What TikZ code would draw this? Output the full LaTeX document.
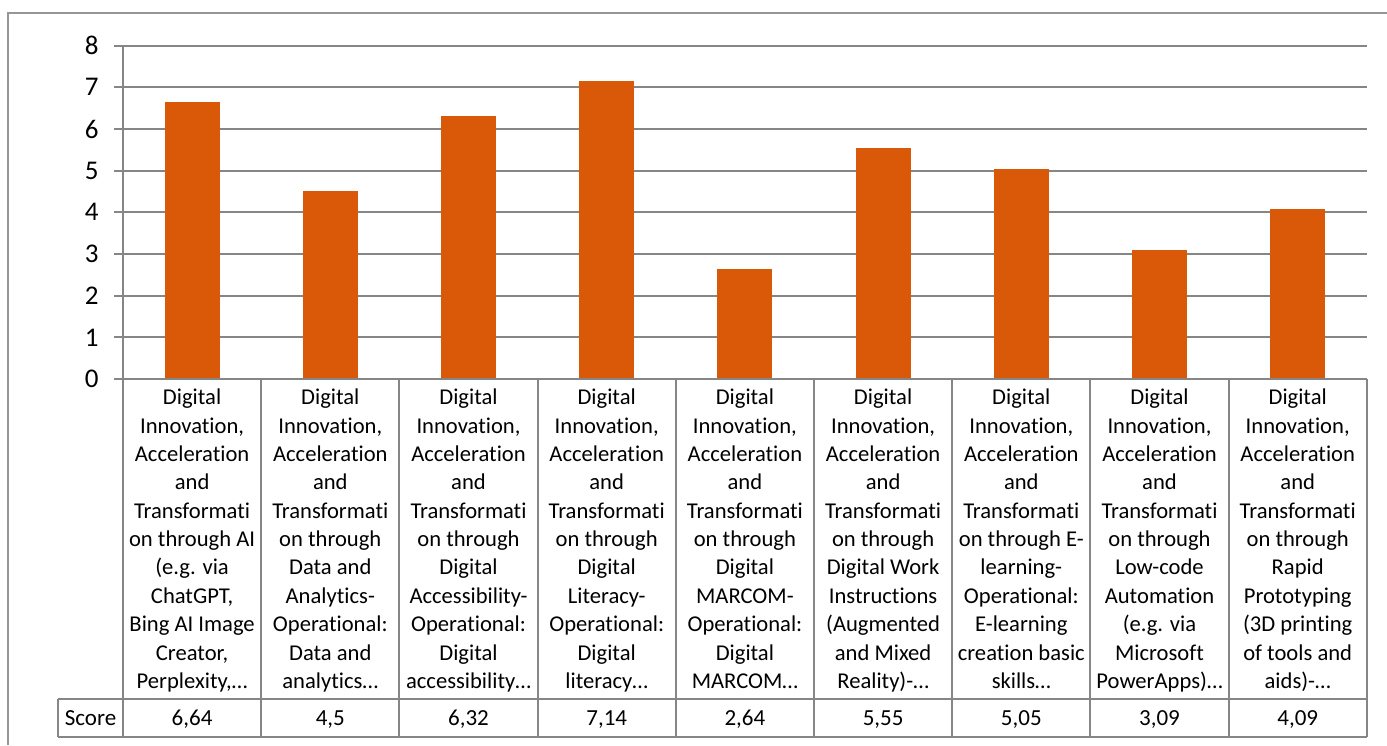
\documentclass[tikz,border=0pt]{standalone}
\usepackage{fontspec}
\setmainfont{Carlito}[Ligatures=NoCommon]
\definecolor{chartgray}{RGB}{134,134,134}
\definecolor{framegray}{RGB}{150,150,150}
\definecolor{barorange}{RGB}{217,89,8}

\begin{document}
\begin{tikzpicture}[x=0.5pt,y=-0.5pt,
    gridline/.style={draw=chartgray, line width=1pt},
    catlabel/.style={anchor=north, align=center, inner sep=0pt,
      font=\fontsize{11.3}{14.17}\selectfont},
    ticklabel/.style={anchor=east, inner sep=0pt,
      font=\fontsize{13.5}{16}\selectfont},
    scorelabel/.style={anchor=base, inner sep=0pt,
      font=\fontsize{11.5}{14}\selectfont}]
  \useasboundingbox (0,0) rectangle (1387,745);

  % frame round the chart
  \draw[draw=framegray, line width=1pt] (8,745) |- (1387,13);

  % value axis with grid
  \foreach \k in {0,...,8} {
    \draw[gridline] (114,379-41.67*\k) -- (1367,379-41.67*\k);
    \node[ticklabel] (tick\k) at (99,379-41.67*\k) {\k};
  }
  \draw[gridline] (123,45.7) -- (123,736.7);

  % data table
  \draw[gridline] (58,699) -- (1367,699);
  \draw[gridline] (58,736.7) -- (1367,736.7);
  \draw[gridline] (58,699) -- (58,736.7);
  \node[scorelabel] (scorehead) at (90.5,725) {Score};

  \foreach \val/\txt/\rest [count=\i] in {
      6.64/{6,64}/{on through AI\\(e.g. via\\ChatGPT,\\Bing AI Image\\Creator,\\Perplexity,…},
      4.5/{4,5}/{on through\\Data and\\Analytics-\\Operational:\\Data and\\analytics…},
      6.32/{6,32}/{on through\\Digital\\Accessibility-\\Operational:\\Digital\\accessibility…},
      7.14/{7,14}/{on through\\Digital\\Literacy-\\Operational:\\Digital\\literacy…},
      2.64/{2,64}/{on through\\Digital\\MARCOM-\\Operational:\\Digital\\MARCOM…},
      5.55/{5,55}/{on through\\Digital Work\\Instructions\\(Augmented\\and Mixed\\Reality)-…},
      5.05/{5,05}/{on through E-\\learning-\\Operational:\\E-learning\\creation basic\\skills…},
      3.09/{3,09}/{on through\\Low-code\\Automation\\(e.g. via\\Microsoft\\PowerApps)…},
      4.09/{4,09}/{on through\\Rapid\\Prototyping\\(3D printing\\of tools and\\aids)-…}} {
    \pgfmathsetmacro{\cx}{123+138.2*(\i-0.5)}
    \fill[barorange] (\cx-27.5,379) rectangle (\cx+27.5,379-41.67*\val);
    \draw[gridline] (123+138.2*\i,379) -- (123+138.2*\i,736.7);
    \node[catlabel] (cat\i) at (\cx,384.7)
      {\strut Digital\\Innovation,\\Acceleration\\and\\Transformati\\\rest};
    \node[scorelabel] (score\i) at (\cx,725) {\txt};
  }
  \draw[gridline] (114,379) -- (1367,379);
\end{tikzpicture}
\end{document}
